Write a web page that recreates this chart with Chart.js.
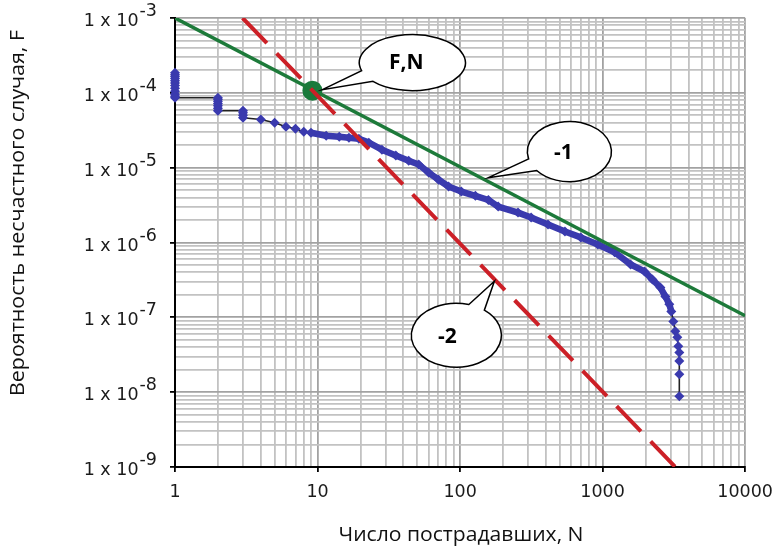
<!DOCTYPE html>
<html><head><meta charset="utf-8">
<script src="https://cdn.jsdelivr.net/npm/chart.js@4"></script>
<style>html,body{margin:0;padding:0;background:#fff;}#wrap{width:783px;height:547px;position:relative;}</style>
</head><body><div id="wrap"><canvas id="c" width="783" height="547"></canvas></div>
<script>
// ---- data ----
const curveN = [1,1,1,1,1,1,1,1,1,1,1,1,
  2,2,2,2,2,2,2,
  3,3,3,3,
  4,5,6,7,8,9,11.5,14.2,16.6,19.5,22.9,28.3,35.4,43.6,51.3,60.1,70.6,83,102,128,158,185,255,315,414,544,703,925,1214,1570,1968,2237,2543,2757,2938,3034,3133,3236,3342,3396,3452,3452,3452,3452];
const curveF = [1.85e-4,1.75e-4,1.65e-4,1.55e-4,1.45e-4,1.35e-4,1.25e-4,1.15e-4,1.05e-4,9.6e-5,9.0e-5,8.6e-5,
  8.6e-5,8.2e-5,7.7e-5,7.2e-5,6.7e-5,6.2e-5,5.75e-5,
  5.75e-5,5.4e-5,5.0e-5,4.65e-5,
  4.4e-5,3.98e-5,3.52e-5,3.31e-5,3.02e-5,2.93e-5,2.67e-5,2.59e-5,2.51e-5,2.44e-5,2.16e-5,1.74e-5,1.45e-5,1.24e-5,1.1e-5,8.6e-6,6.9e-6,5.6e-6,4.8e-6,4.2e-6,3.7e-6,3.02e-6,2.51e-6,2.16e-6,1.74e-6,1.4e-6,1.17e-6,9.4e-7,7.4e-7,5.1e-7,4.1e-7,3.2e-7,2.5e-7,1.9e-7,1.49e-7,1.2e-7,8.8e-8,6.5e-8,5.4e-8,4.1e-8,3.4e-8,2.6e-8,1.74e-8,8.85e-9];
const slope1N = [1, 10000];
const slope1F = [1e-3, 1.05e-7];
const slope2N = [2.98, 3236];
const slope2F = [1e-3, 1e-9];
const markN = [9.2];
const markF = [1.07e-4];
const xTickValues = [1, 10, 100, 1000, 10000];
const xTickLabels = ['1', '10', '100', '1000', '10000'];
const yTickExponents = [-3, -4, -5, -6, -7, -8, -9];
const yTickBase = '1 x 10';
const xTitle = 'Число пострадавших, N';
const yTitle = 'Вероятность несчастного случая, F';
const calloutTexts = ['F,N', '-1', '-2'];
const calloutAnchorN = [9.2, 158, 174];

// ---- styling ----
const BLUE = '#3a3aae', GREEN = '#1d7a3a', RED = '#cc2027';
const isMajor = v => Math.abs(Math.log10(v) - Math.round(Math.log10(v))) < 1e-9;
function logTicks(minE, maxE) {
  const t = [];
  for (let e = minE; e < maxE; e++) for (let k = 1; k <= 9; k++) t.push({value: k * Math.pow(10, e)});
  t.push({value: Math.pow(10, maxE)});
  return t;
}
function lineF(Ns, Fs, n) {
  const a = Math.log10(Ns[0]), b = Math.log10(Ns[1]);
  const fa = Math.log10(Fs[0]), fb = Math.log10(Fs[1]);
  return Math.pow(10, fa + (fb - fa) * (Math.log10(n) - a) / (b - a));
}
const pts = (Ns, Fs) => Ns.map((n, i) => ({x: n, y: Fs[i]}));
const dense = ctx => ctx.p0.parsed.x >= 9 && ctx.p1.parsed.x <= 3034 && ctx.p0.parsed.x !== ctx.p1.parsed.x;

const callouts = [
  {anchor: () => [markN[0], markF[0]], tip: [10, -1], c: [100, -28], rx: 53, ry: 28, a: [-50, 8], b: [-40, 19], t: [-6, 0]},
  {anchor: () => [calloutAnchorN[1], lineF(slope1N, slope1F, calloutAnchorN[1])], tip: [0, -4], c: [81, -30], rx: 42, ry: 30, a: [-39, 7], b: [-33, 19], t: [-6, 1]},
  {anchor: () => [calloutAnchorN[2], lineF(slope2N, slope2F, calloutAnchorN[2])], tip: [0, 2], c: [-38, 56], rx: 45, ry: 32, a: [13, -32], b: [29, -26], t: [-9, 2]}
];

const decor = {
  id: 'decor',
  afterDatasetsDraw(chart) {
    const ctx = chart.ctx, xs = chart.scales.x, ys = chart.scales.y;
    ctx.save();
    callouts.forEach((co, i) => {
      const [n, f] = co.anchor();
      const ax = xs.getPixelForValue(n), ay = ys.getPixelForValue(f);
      const cx = ax + co.c[0], cy = ay + co.c[1];
      const tx = ax + co.tip[0], ty = ay + co.tip[1];
      const tA = Math.atan2(co.a[1] / co.ry, co.a[0] / co.rx);
      const tB = Math.atan2(co.b[1] / co.ry, co.b[0] / co.rx);
      let d = tB - tA; while (d > Math.PI) d -= 2 * Math.PI; while (d < -Math.PI) d += 2 * Math.PI;
      ctx.beginPath();
      ctx.moveTo(tx, ty);
      ctx.lineTo(cx + co.rx * Math.cos(tA), cy + co.ry * Math.sin(tA));
      ctx.ellipse(cx, cy, co.rx, co.ry, 0, tA, tB, d > 0);
      ctx.closePath();
      ctx.fillStyle = '#fff'; ctx.fill();
      ctx.lineWidth = 1.5; ctx.strokeStyle = '#000'; ctx.lineJoin = 'miter'; ctx.stroke();
      ctx.fillStyle = '#000';
      ctx.font = 'bold 21px "Open Sans", "Noto Sans", sans-serif';
      ctx.textAlign = 'center'; ctx.textBaseline = 'middle';
      ctx.fillText(calloutTexts[i], cx + co.t[0], cy + co.t[1]);
    });
    ctx.restore();
  },
  afterDraw(chart) {
    const ctx = chart.ctx, ys = chart.scales.y;
    ctx.save();
    ctx.fillStyle = '#1a1a1a';
    ctx.font = '17.5px "DejaVu Sans", sans-serif';
    ctx.textBaseline = 'alphabetic';
    yTickExponents.forEach(e => {
      const y = ys.getPixelForValue(Math.pow(10, e));
      const ex = String(e);
      const ew = ctx.measureText(ex).width;
      const right = 157;
      ctx.textAlign = 'right';
      ctx.fillText(ex, right, y - 2);
      ctx.fillText(yTickBase, right - ew - 1, y + 8);
    });
    // axis titles
    ctx.fillStyle = '#111';
    ctx.font = '19.5px "Open Sans", "Noto Sans", sans-serif';
    ctx.textAlign = 'center';
    let w = ctx.measureText(xTitle).width;
    ctx.save(); ctx.translate(461, 541); ctx.scale(245 / w, 1); ctx.fillText(xTitle, 0, 0); ctx.restore();
    w = ctx.measureText(yTitle).width;
    ctx.save(); ctx.translate(24, 213); ctx.rotate(-Math.PI / 2); ctx.scale(366 / w, 1); ctx.fillText(yTitle, 0, 0); ctx.restore();
    ctx.restore();
  }
};

const gridOpts = {
  color: c => (c.tick && isMajor(c.tick.value)) ? '#a2a2a2' : '#c2c2c2',
  lineWidth: 1.8,
  tickColor: c => (c.tick && isMajor(c.tick.value)) ? '#000' : 'rgba(0,0,0,0)',
  tickLength: 5,
  drawTicks: true
};

new Chart(document.getElementById('c'), {
  type: 'scatter',
  data: {
    datasets: [
      {label: 'slope -2', data: pts(slope2N, slope2F), showLine: true, borderColor: RED, borderWidth: 4, borderDash: [35, 14], pointRadius: 0, borderCapStyle: 'butt'},
      {label: 'slope -1', data: pts(slope1N, slope1F), showLine: true, borderColor: GREEN, borderWidth: 3.5, pointRadius: 0},
      {label: 'F,N', data: pts(markN, markF), showLine: false, pointRadius: 10, pointBackgroundColor: '#1a7a3c', pointBorderWidth: 0, clip: false},
      {label: 'F-N curve', data: pts(curveN, curveF), showLine: true, borderColor: '#222', borderWidth: 1.5,
        pointStyle: 'rectRot', pointRadius: 5, pointBackgroundColor: BLUE, pointBorderWidth: 0, clip: 8,
        borderJoinStyle: 'round', borderCapStyle: 'round',
        segment: {borderColor: c => dense(c) ? BLUE : '#222', borderWidth: c => dense(c) ? 6.5 : 1.6}}
    ]
  },
  options: {
    responsive: false, animation: false, devicePixelRatio: 1,
    layout: {padding: {left: 0, top: 18, right: 35, bottom: 0}},
    plugins: {legend: {display: false}, tooltip: {enabled: false}},
    scales: {
      x: {
        type: 'logarithmic', min: 1, max: 10000, position: 'bottom',
        afterBuildTicks: s => { s.ticks = logTicks(0, 4); },
        afterFit: s => { s.height = 80; },
        grid: gridOpts,
        border: {color: '#000', width: 2},
        ticks: {autoSkip: false, maxRotation: 0, padding: 10, color: '#1a1a1a',
          font: {family: '"DejaVu Sans", sans-serif', size: 17.5},
          callback: v => { const i = xTickValues.findIndex(t => Math.abs(t - v) < 1e-6 * t); return i >= 0 ? xTickLabels[i] : ''; }}
      },
      y: {
        type: 'logarithmic', min: 1e-9, max: 1e-3, position: 'left',
        afterBuildTicks: s => { s.ticks = logTicks(-9, -3); },
        afterFit: s => { s.width = 175; },
        grid: gridOpts,
        border: {color: '#000', width: 2},
        ticks: {display: false, autoSkip: false}
      }
    }
  },
  plugins: [decor]
});
</script></body></html>
